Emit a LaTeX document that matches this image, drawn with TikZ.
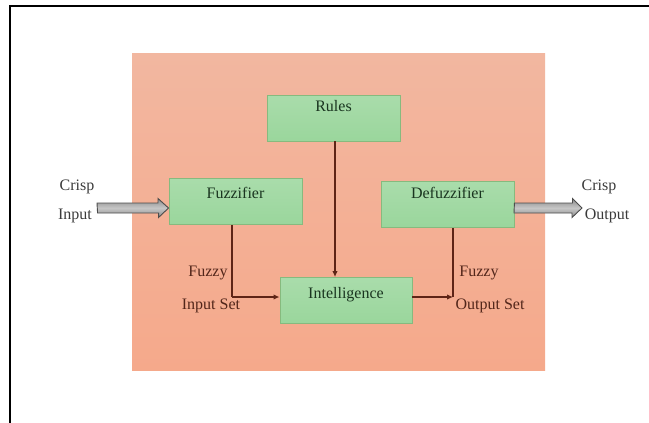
\documentclass[tikz,border=0pt]{standalone}
\usepackage{fontspec}
\setmainfont{Liberation Serif}
\usetikzlibrary{arrows.meta}
\definecolor{orangebg}{HTML}{F5A98B}
\definecolor{orangetop}{HTML}{F2B7A0}
\definecolor{greenfill}{HTML}{9AD69C}
\definecolor{greenedge}{HTML}{86BA7E}
\definecolor{boxtext}{HTML}{1A3520}
\definecolor{conncol}{HTML}{5E2416}
\definecolor{labeltext}{HTML}{3A3A3A}
\definecolor{fuzzytext}{HTML}{52261A}
\tikzset{
  gbox/.style={draw=greenedge, line width=0.9pt, top color=greenfill!85!white, bottom color=greenfill,
    minimum width=133pt, minimum height=46pt, inner sep=0pt, text=boxtext,
    font=\fontsize{16}{18}\selectfont, text height=11pt, text depth=#1},
  conn/.style={draw=conncol, line width=1.2pt, -{Latex[length=6pt,width=5.5pt]}},
  plainline/.style={draw=conncol, line width=1.2pt},
  sidelabel/.style={text=labeltext, font=\fontsize{16}{18}\selectfont, inner sep=0pt},
  fuzzylabel/.style={text=fuzzytext, font=\fontsize{16}{18}\selectfont, inner sep=0pt},
  fatarrow/.style={draw=black!70, line width=0.9pt, top color=gray!90, bottom color=gray!90, middle color=gray!45}
}
\begin{document}
\begin{tikzpicture}[x=1pt,y=-1pt]
\useasboundingbox (0,0) rectangle (649,423);
% frame
\draw[line width=1.6pt, black] (10,423) -- (10,6) -- (649,6);
% orange panel
\node[draw=none, top color=orangetop, bottom color=orangebg, minimum width=413pt, minimum height=317pt, inner sep=0pt, anchor=north west] (panel) at (132,53) {};
% boxes
\node[gbox=24pt] (rules) at (333.5,118) {Rules};
\node[gbox=17pt] (fuzz) at (235.5,201.5) {Fuzzifier};
\node[gbox=23pt] (defuzz) at (447.5,204.5) {Defuzzifier};
\node[gbox=15pt, minimum width=132pt] (intel) at (346,300.5) {Intelligence};
% coordinates for connectors
\coordinate (fi) at (232,297);
\coordinate (fo) at (453,297);
\coordinate (rl) at (335,0);
\coordinate (inA) at (97,208);
\coordinate (outB) at (582,208);
% connectors
\draw[conn] (rules.south -| rl) -- (intel.north -| rl);
\draw[plainline] (fuzz.south -| fi) -- (fi);
\draw[conn] (fi) -- (intel.west |- fi);
\draw[plainline] (defuzz.south -| fo) -- (fo);
\draw[conn] (intel.east |- fo) -- (fo);
% fat arrows
\path[fatarrow] (inA) ++(0,-5) -- ++(61,0) -- ++(0,-4.5) -- (fuzz.west |- inA) -- ++(-10,9.5) -- ++(0,-4.5) -- ++(-61,0) -- cycle;
\path[fatarrow] (defuzz.east |- inA) ++(0,-5) -- ++(58,0) -- ++(0,-4.5) -- (outB) -- ++(-10,9.5) -- ++(0,-4.5) -- ++(-58,0) -- cycle;
% labels
\node[sidelabel] (crispin) at (77,187) {Crisp};
\node[sidelabel] (inputlbl) at (75,216) {Input};
\node[sidelabel] (crispout) at (599,187) {Crisp};
\node[sidelabel] (outputlbl) at (607,216) {Output};
\node[fuzzylabel] (fz1) at (208,273) {Fuzzy};
\node[fuzzylabel] (fz1b) at (211,306) {Input Set};
\node[fuzzylabel] (fz2) at (479,273) {Fuzzy};
\node[fuzzylabel] (fz2b) at (490,306) {Output Set};
\end{tikzpicture}
\end{document}
